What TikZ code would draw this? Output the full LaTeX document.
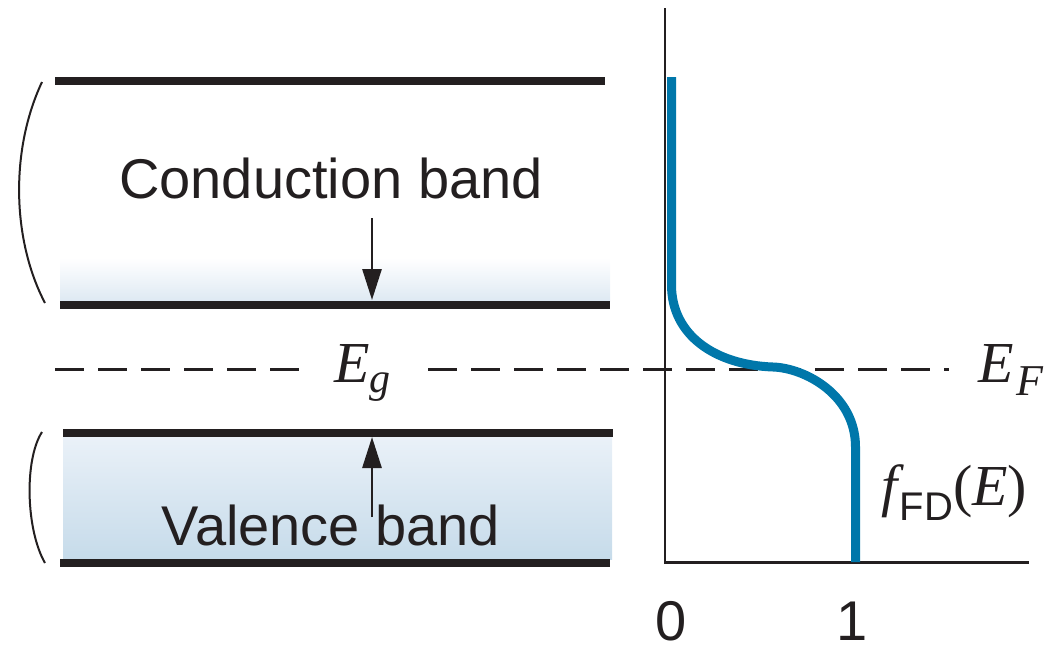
\documentclass[tikz,border=0pt]{standalone}
\usepackage{fontspec}
\setmainfont{Liberation Sans}
\newfontfamily\serifit{Liberation Serif}
\usetikzlibrary{arrows.meta}
\definecolor{ink}{RGB}{35,31,32}
\definecolor{fdblue}{RGB}{0,119,170}
\definecolor{vtop}{RGB}{234,241,248}
\definecolor{vbot}{RGB}{198,219,234}
\definecolor{cbot}{RGB}{222,233,243}
\tikzset{
  bandline/.style={draw=ink, line width=8pt},
  axisline/.style={draw=ink, line width=2.8pt},
  fermi/.style={draw=ink, line width=3pt, dash pattern=on 29pt off 14pt},
  gaparrow/.style={draw=ink, line width=2.8pt, -{Triangle[length=31pt,width=19pt]}},
  paren/.style={draw=ink, line width=2pt},
  fdcurve/.style={draw=fdblue, line width=9pt},
  sanslabel/.style={anchor=base, inner sep=0pt, text=ink, font=\fontsize{56}{60}\selectfont},
  mathlabel/.style={anchor=base west, inner sep=0pt, text=ink, font=\serifit\fontsize{58}{60}\selectfont},
}
\begin{document}
\begin{tikzpicture}[x=1pt,y=-1pt]
\useasboundingbox (0,0) rectangle (1048,653);

% band fills
\shade[top color=white, bottom color=cbot] (60,258) rectangle (610,301);
\shade[top color=vtop, bottom color=vbot] (63,436) rectangle (612,559);

% band edges
\coordinate (ct1) at (55,81);   \coordinate (ct2) at (605,81);
\coordinate (cb1) at (60,305);  \coordinate (cb2) at (610,305);
\coordinate (vt1) at (63,432.5);\coordinate (vt2) at (613,432.5);
\coordinate (vb1) at (60,562.5);\coordinate (vb2) at (610,562.5);
\draw[bandline] (ct1) -- (ct2);
\draw[bandline] (cb1) -- (cb2);
\draw[bandline] (vt1) -- (vt2);
\draw[bandline] (vb1) -- (vb2);

% parentheses
\coordinate (cp1) at (42,82); \coordinate (cp2) at (45,303);
\draw[paren] (cp1) .. controls (10,150) and (12,240) .. (cp2);
\coordinate (vp1) at (42,432); \coordinate (vp2) at (45,563);
\draw[paren] (vp1) .. controls (24,460) and (26,530) .. (vp2);

% labels
\node[sanslabel] (cbtext) at (331,198) {Conduction band};
\node[sanslabel] (vbtext) at (331,545) {Valence band};

% gap arrows
\coordinate (a1s) at (372,218); \coordinate (a1e) at (372,300);
\draw[gaparrow] (a1s) -- (a1e);
\coordinate (a2s) at (372,517); \coordinate (a2e) at (372,437);
\draw[gaparrow] (a2s) -- (a2e);

% Fermi level
\coordinate (f1) at (55,369.3); \coordinate (f2) at (299,369.3);
\coordinate (f3) at (428,369.3); \coordinate (f4) at (949,369.3);
\draw[fermi] (f1) -- (f2);
\draw[fermi] (f3) -- (f4);
\node[mathlabel] (eg) at (334,382) {\itshape E\raisebox{-10pt}{\fontsize{42}{44}\selectfont g}};
\node[mathlabel] (ef) at (978.6,382) {\itshape E\kern2pt\raisebox{-13pt}{\fontsize{44}{46}\selectfont F}};

% axes
\coordinate (o) at (665,562.3);
\coordinate (ytop) at (665,8);
\coordinate (xend) at (1029,562.3);
\draw[axisline] (ytop) -- (o) -- (xend);

% Fermi-Dirac curve
\coordinate (c0) at (671.5,77);
\coordinate (c1) at (671.5,285);
\coordinate (c2) at (773,367);
\coordinate (c3) at (855.5,447);
\coordinate (c4) at (855.5,562);
\draw[fdcurve] (c0) -- (c1) .. controls (671.5,335) and (715,365) .. (c2)
  .. controls (805,368) and (855.5,395) .. (c3) -- (c4);

\node[mathlabel] (fd) at (881.5,505) {\itshape f\kern2pt\raisebox{-15pt}{\upshape\rmfamily\fontsize{40}{42}\selectfont FD}\upshape(\itshape E\upshape)};

% tick labels
\node[sanslabel, font=\fontsize{56}{60}\selectfont] (zero) at (671,640) {0};
\node[sanslabel, font=\fontsize{56}{60}\selectfont] (one) at (852,640) {1};
\end{tikzpicture}
\end{document}
